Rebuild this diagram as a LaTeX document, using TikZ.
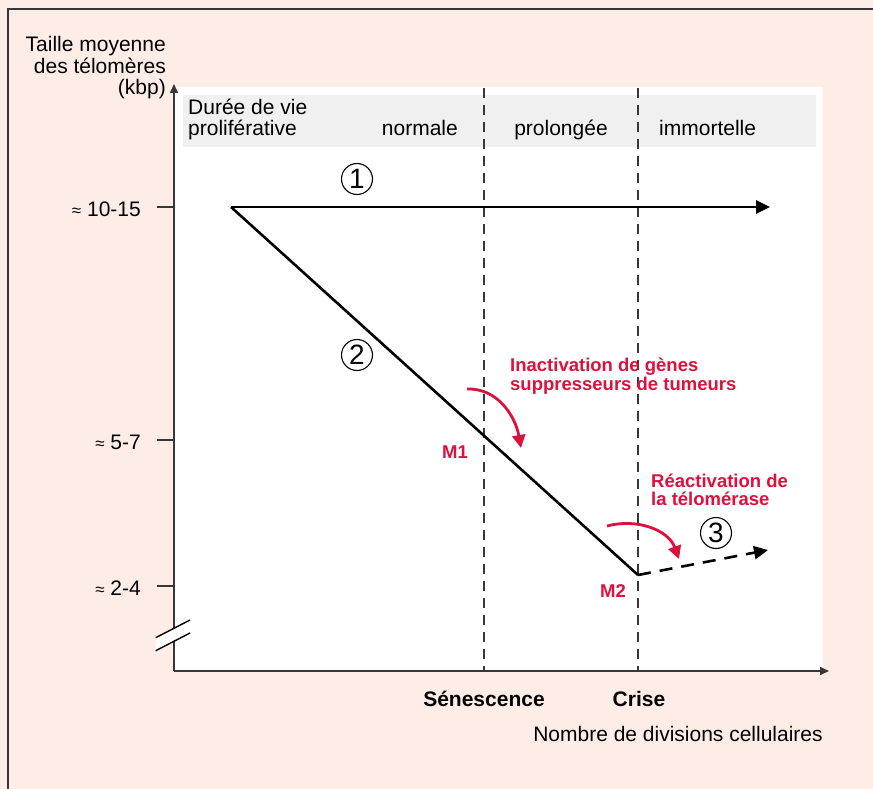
\documentclass[tikz,border=0pt]{standalone}
\usepackage{fontspec}
\setmainfont{Liberation Sans}
\usetikzlibrary{arrows.meta}
\definecolor{bgpink}{RGB}{253,237,230}
\definecolor{bandgray}{RGB}{240,240,240}
\definecolor{redtxt}{RGB}{222,16,60}
\definecolor{axisgray}{RGB}{55,55,55}
\tikzset{
  lbl/.style={font=\fontsize{21}{21.5}\selectfont, inner sep=0pt},
  bold lbl/.style={font=\fontsize{21}{22}\selectfont\bfseries, inner sep=0pt},
  redlbl/.style={font=\fontsize{18.5}{18.5}\selectfont\bfseries, text=redtxt, inner sep=0pt, align=left},
  numcirc/.style={circle, draw, line width=1.1pt, minimum size=31pt, inner sep=0pt, font=\fontsize{28}{28}\selectfont},
  axisline/.style={draw=axisgray, line width=1.6pt},
  tickline/.style={draw=axisgray, line width=1.3pt},
  vdash/.style={draw=axisgray, line width=1.5pt, dash pattern=on 10pt off 7pt},
  mainline/.style={line width=2.6pt, black},
  bigtip/.style={-{Triangle[length=14pt,width=13pt]}},
  redarrow/.style={draw=redtxt, line width=2.8pt, -{Triangle[length=13pt,width=13pt]}},
  approx/.style={},
}
\newcommand{\apx}{{\fontsize{17}{17}\selectfont ≈}}
\begin{document}
\begin{tikzpicture}[x=1pt,y=-1pt]
\useasboundingbox (0,0) rectangle (873,789);
% background and frame
\fill[bgpink] (0,0) rectangle (873,789);
\draw[axisgray, line width=2pt] (8,800) -- (8,9) -- (880,9);
% white plotting area
\fill[white] (174,87) rectangle (823,671);
% gray band
\fill[bandgray] (183,95) rectangle (816,147);
% band texts
\node[lbl, anchor=base west, align=left] (duree) at (188,136) {Durée de vie\\proliférative};
\node[lbl, anchor=base east] (normale) at (458,136) {normale};
\node[lbl, anchor=base] (prolongee) at (561,136) {prolongée};
\node[lbl, anchor=base west] (immortelle) at (659,136) {immortelle};
% dashed verticals
\coordinate (s top) at (484,88);
\coordinate (s bot) at (484,671);
\coordinate (c top) at (638,88);
\coordinate (c bot) at (638,671);
\draw[vdash] (s top) -- (s bot);
\draw[vdash] (c top) -- (c bot);
% axes
\coordinate (origin) at (174,671);
\coordinate (ytip) at (174,84);
\coordinate (xtip) at (829,671);
\draw[axisline, -{Triangle[length=9pt,width=8pt]}] (origin) -- (ytip);
\draw[axisline, -{Triangle[length=9pt,width=8pt]}] (origin) -- (xtip);
% break mark
\fill[white] (155.7,637.7) -- (190,620) -- (190,633) -- (155.7,650.7) -- cycle;
\coordinate (b1a) at (155.7,637.7);
\coordinate (b1b) at (190,620);
\coordinate (b2a) at (155.7,650.7);
\coordinate (b2b) at (190,633);
\draw[black, line width=1.4pt] (b1a) -- (b1b);
\draw[black, line width=1.4pt] (b2a) -- (b2b);
% y axis title
\node[lbl, anchor=east, align=right] (ytitle) at (166,68) {Taille moyenne\\des télomères\\(kbp)};
% ticks
\coordinate (t1) at (157,207); \coordinate (t1e) at (174,207);
\coordinate (t2) at (157,440); \coordinate (t2e) at (174,440);
\coordinate (t3) at (157,586); \coordinate (t3e) at (174,586);
\draw[tickline] (t1) -- (t1e);
\draw[tickline] (t2) -- (t2e);
\draw[tickline] (t3) -- (t3e);
\node[lbl, anchor=east] (l1) at (141,209) {\apx{} 10-15};
\node[lbl, anchor=east] (l2) at (141,442) {\apx{} 5-7};
\node[lbl, anchor=east] (l3) at (141,588) {\apx{} 2-4};
% curves
\coordinate (start) at (231,207);
\coordinate (end1) at (770,207);
\coordinate (m2pt) at (638,575);
\coordinate (end3) at (768,550);
\draw[mainline, bigtip] (start) -- (end1);
\draw[mainline, line cap=butt] (start) -- (m2pt);
\draw[mainline, dash pattern=on 13pt off 9pt, bigtip] (m2pt) -- (end3);
% circled numbers
\node[numcirc] (n1) at (357,179) {1};
\node[numcirc] (n2) at (357,355) {2};
\node[numcirc] (n3) at (716,533) {3};
% red annotations
\node[redlbl, anchor=west] (inact) at (510,376) {Inactivation de gènes\\suppresseurs de tumeurs};
\node[redlbl, anchor=west] (react) at (651,490) {Réactivation de\\la télomérase};
\node[redlbl, anchor=center] (m1) at (455,452) {M1};
\node[redlbl, anchor=center] (m2) at (613,591) {M2};
\coordinate (ra1s) at (467,389);
\coordinate (ra1e) at (521,448);
\coordinate (ra2s) at (607,526);
\coordinate (ra2e) at (679,559);
\draw[redarrow] (ra1s) to[out=2, in=100] (ra1e);
\draw[redarrow] (ra2s) to[out=15, in=110] (ra2e);
% x labels
\node[bold lbl, anchor=center] (sen) at (484,699) {Sénescence};
\node[bold lbl, anchor=center] (crise) at (639,699) {Crise};
\node[lbl, anchor=center] (xtitle) at (678,734) {Nombre de divisions cellulaires};
\end{tikzpicture}
\end{document}
